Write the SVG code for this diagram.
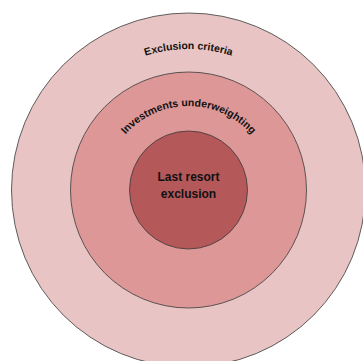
<svg xmlns="http://www.w3.org/2000/svg" xmlns:xlink="http://www.w3.org/1999/xlink" width="363" height="361" viewBox="0 0 363 361">
  <style>
    .ring { stroke: #3a3a3a; stroke-width: 0.8; }
    .arc-label { font-family: "Liberation Sans", Arial, sans-serif; font-size: 10.5px; font-weight: bold; fill: #111; }
    .center-label { font-family: "Liberation Sans", Arial, sans-serif; font-size: 12px; font-weight: bold; fill: #111; text-anchor: middle; }
  </style>
  <defs>
    <path id="arcOuter" d="M 47.5 190 A 141 141 0 0 1 329.5 190" fill="none"/>
    <path id="arcMiddle" d="M 104.5 190 A 84 84 0 0 1 272.5 190" fill="none"/>
  </defs>
  <rect width="363" height="361" fill="#ffffff"/>
  <g id="exclusion-criteria">
    <circle class="ring" cx="188.5" cy="190" r="177" fill="#e8c5c4"/>
    <text class="arc-label"><textPath xlink:href="#arcOuter" href="#arcOuter" startOffset="50%" text-anchor="middle">Exclusion criteria</textPath></text>
  </g>
  <g id="investments-underweighting">
    <circle class="ring" cx="188.5" cy="190" r="118" fill="#de9797"/>
    <text class="arc-label"><textPath xlink:href="#arcMiddle" href="#arcMiddle" startOffset="50%" text-anchor="middle">Investments underweighting</textPath></text>
  </g>
  <g id="last-resort-exclusion">
    <circle class="ring" cx="188.5" cy="190" r="59" fill="#b45859"/>
    <text class="center-label" x="188.5" y="180.5">Last resort</text>
    <text class="center-label" x="188.5" y="197.5">exclusion</text>
  </g>
  <g id="connectors"/>
</svg>
